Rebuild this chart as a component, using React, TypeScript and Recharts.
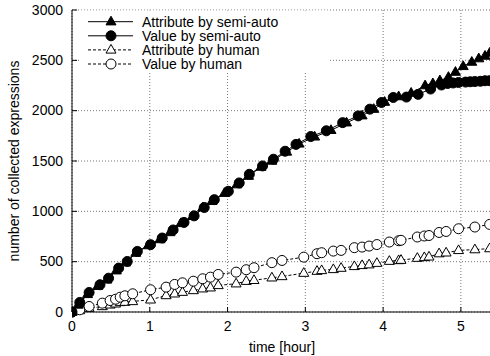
import { LineChart, Line, XAxis, YAxis, CartesianGrid, Label } from "recharts";

const hourTicks = [0, 1, 2, 3, 4, 5];
const countTicks = [0, 500, 1000, 1500, 2000, 2500, 3000];

const semiValueHours = [0, 0.1, 0.22, 0.36, 0.47, 0.6, 0.71, 0.84, 1.01, 1.16, 1.3, 1.44, 1.57, 1.7, 1.83, 2.01, 2.15, 2.28, 2.45, 2.59, 2.74, 2.88, 3.07, 3.27, 3.48, 3.68, 3.83, 3.98, 4.13, 4.3, 4.45, 4.61, 4.75, 4.83, 4.9, 4.97, 5.06, 5.12, 5.18, 5.25, 5.31, 5.37];
const semiValueCounts = [0, 95, 194, 271, 336, 436, 502, 602, 669, 735, 815, 890, 955, 1038, 1116, 1199, 1282, 1368, 1451, 1518, 1597, 1665, 1743, 1800, 1881, 1948, 2015, 2081, 2131, 2135, 2162, 2215, 2255, 2270, 2275, 2280, 2284, 2287, 2289, 2292, 2297, 2298];

const semiAttrHours = [0, 0.08, 0.2, 0.33, 0.45, 0.57, 0.69, 0.82, 0.98, 1.13, 1.26, 1.4, 1.55, 1.68, 1.8, 1.96, 2.12, 2.27, 2.43, 2.57, 2.76, 2.92, 3.12, 3.33, 3.53, 3.73, 3.88, 4.02, 4.2, 4.36, 4.54, 4.64, 4.73, 4.84, 4.93, 5.03, 5.14, 5.23, 5.31, 5.37];
const semiAttrCounts = [0, 70, 175, 255, 320, 410, 490, 585, 660, 720, 790, 880, 950, 1035, 1100, 1180, 1265, 1350, 1440, 1500, 1590, 1670, 1740, 1805, 1880, 1950, 2015, 2085, 2140, 2175, 2249, 2270, 2299, 2333, 2383, 2440, 2483, 2517, 2543, 2573];

// human sessions share the same time stamps
const humanHours = [0, 0.1, 0.22, 0.39, 0.49, 0.56, 0.62, 0.68, 0.78, 1.01, 1.21, 1.32, 1.42, 1.56, 1.68, 1.78, 1.88, 2.11, 2.24, 2.34, 2.57, 2.7, 2.98, 3.15, 3.21, 3.36, 3.46, 3.63, 3.73, 3.82, 3.92, 4.08, 4.2, 4.23, 4.44, 4.53, 4.59, 4.72, 4.81, 4.97, 5.18, 5.37];
const humanValueCounts = [0, 22, 55, 88, 114, 127, 147, 161, 181, 221, 247, 274, 290, 306, 330, 346, 373, 396, 420, 440, 490, 512, 545, 579, 589, 605, 612, 639, 645, 655, 670, 695, 708, 712, 745, 755, 760, 790, 800, 827, 844, 870];
const humanAttrCounts = [0, 15, 38, 55, 71, 81, 95, 98, 105, 121, 164, 181, 197, 214, 231, 241, 264, 281, 306, 315, 340, 353, 386, 406, 413, 423, 436, 453, 463, 470, 485, 505, 512, 515, 535, 542, 548, 580, 588, 612, 620, 630];

const seriesNames = ["Attribute by semi-auto", "Value by semi-auto", "Attribute by human", "Value by human"];

const pair = (hours: number[], counts: number[]) => hours.map((t, i) => ({ t, n: counts[i] }));

const font = "'Liberation Sans', Arial, sans-serif";
const fontSize = 14;

const triPoints = (x: number, y: number) => `${x},${y - 5.5} ${x - 5},${y + 3.2} ${x + 5},${y + 3.2}`;

const marker = (kind: "tri" | "circ", filled: boolean) => (p: any) => {
  const fill = filled ? "#000" : "#fff";
  if (p.cx == null || p.cy == null) return <g key={p.index} />;
  return kind === "tri" ? (
    <polygon key={p.index} points={triPoints(p.cx, p.cy)} fill={fill} stroke="#000" strokeWidth={1} />
  ) : (
    <circle key={p.index} cx={p.cx} cy={p.cy} r={5} fill={fill} stroke="#000" strokeWidth={1} />
  );
};

const BottomTick = ({ x, y, payload }: any) => (
  <g>
    <line x1={x} x2={x} y1={y - 10} y2={y - 15} stroke="#000" />
    <text x={x} y={y + 9} textAnchor="middle" fontFamily={font} fontSize={fontSize} fill="#000">
      {payload.value}
    </text>
  </g>
);

const TopTick = ({ x, y }: any) => <line x1={x} x2={x} y1={y} y2={y + 5} stroke="#000" />;

const LeftTick = ({ x, y, payload }: any) => (
  <g>
    <line x1={x + 9} x2={x + 14} y1={y} y2={y} stroke="#000" />
    <text x={x} y={y + 4.8} textAnchor="end" fontFamily={font} fontSize={fontSize} fill="#000">
      {payload.value}
    </text>
  </g>
);

function KeyBox() {
  const rows = [
    { kind: "tri" as const, filled: true, dash: undefined },
    { kind: "circ" as const, filled: true, dash: undefined },
    { kind: "tri" as const, filled: false, dash: "3 2" },
    { kind: "circ" as const, filled: false, dash: "3 2" },
  ];
  return (
    <svg width={490} height={356} style={{ position: "absolute", left: 0, top: 0, pointerEvents: "none" }}>
      <rect x={79} y={10.5} width={251} height={61} fill="#fff" />
      {rows.map((r, i) => {
        const cy = 21.7 + i * 14.1;
        return (
          <g key={i}>
            <line x1={88} x2={133} y1={cy} y2={cy} stroke="#000" strokeDasharray={r.dash} />
            {marker(r.kind, r.filled)({ cx: 111, cy, index: i })}
            <text x={142} y={cy + 4.8} fontFamily={font} fontSize={fontSize} fill="#000">
              {seriesNames[i]}
            </text>
          </g>
        );
      })}
    </svg>
  );
}

export default function App() {
  return (
    <div style={{ position: "absolute", left: 0, top: 0, width: 490, height: 356, overflow: "hidden", background: "#fff" }}>
      <LineChart width={492} height={356} margin={{ top: 10, right: 0, bottom: 0, left: 0 }}>
        <CartesianGrid stroke="#777" strokeDasharray="1 2" />
        <XAxis
          dataKey="t"
          type="number"
          domain={[0, 5.4]}
          ticks={hourTicks}
          interval={0}
          allowDataOverflow
          height={44}
          tickSize={0}
          tickMargin={10}
          tickLine={false}
          axisLine={{ stroke: "#000" }}
          tick={<BottomTick />}
        >
          <Label value="time [hour]" position="insideBottom" offset={4} fontFamily={font} fontSize={fontSize} fill="#000" />
        </XAxis>
        <XAxis
          xAxisId="top"
          orientation="top"
          dataKey="t"
          type="number"
          domain={[0, 5.4]}
          ticks={hourTicks}
          interval={0}
          height={0}
          tickSize={0}
          tickMargin={0}
          tickLine={false}
          axisLine={{ stroke: "#000" }}
          tick={<TopTick />}
        />
        <YAxis
          type="number"
          domain={[0, 3000]}
          ticks={countTicks}
          interval={0}
          width={72}
          tickSize={0}
          tickMargin={9}
          tickLine={false}
          axisLine={{ stroke: "#000" }}
          tick={<LeftTick />}
        >
          <Label
            content={({ viewBox }: any) => {
              const cx = viewBox.x + 19;
              const cy = viewBox.y + viewBox.height / 2;
              return (
                <text x={cx} y={cy} transform={`rotate(-90 ${cx} ${cy})`} textAnchor="middle" fontFamily={font} fontSize={fontSize} fill="#000">
                  number of collected expressions
                </text>
              );
            }}
          />
        </YAxis>
        <Line data={pair(humanHours, humanAttrCounts)} dataKey="n" name={seriesNames[2]} stroke="#000" strokeWidth={1} strokeDasharray="3 2" dot={marker("tri", false)} isAnimationActive={false} />
        <Line data={pair(humanHours, humanValueCounts)} dataKey="n" name={seriesNames[3]} stroke="#000" strokeWidth={1} strokeDasharray="3 2" dot={marker("circ", false)} isAnimationActive={false} />
        <Line data={pair(semiAttrHours, semiAttrCounts)} dataKey="n" name={seriesNames[0]} stroke="#000" strokeWidth={1} dot={marker("tri", true)} isAnimationActive={false} />
        <Line data={pair(semiValueHours, semiValueCounts)} dataKey="n" name={seriesNames[1]} stroke="#000" strokeWidth={1} dot={marker("circ", true)} isAnimationActive={false} />
      </LineChart>
      <KeyBox />
    </div>
  );
}
